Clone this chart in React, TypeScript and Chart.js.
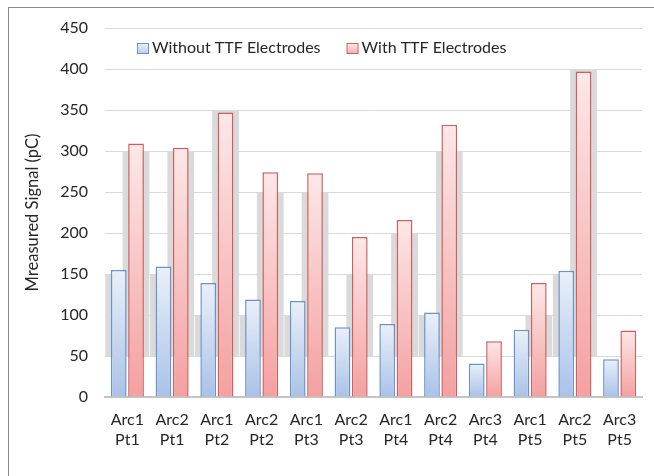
import React, { useEffect, useRef } from "react";
import { Chart, registerables } from "chart.js";

Chart.register(...registerables);

const categories: string[][] = [
  ["Arc1", "Pt1"], ["Arc2", "Pt1"], ["Arc1", "Pt2"], ["Arc2", "Pt2"],
  ["Arc1", "Pt3"], ["Arc2", "Pt3"], ["Arc1", "Pt4"], ["Arc2", "Pt4"],
  ["Arc3", "Pt4"], ["Arc1", "Pt5"], ["Arc2", "Pt5"], ["Arc3", "Pt5"],
];
const withoutTTF: number[] = [155, 159, 139, 119, 117, 85, 89, 103, 41, 82, 154, 46];
const withTTF: number[] = [309, 304, 347, 274, 273, 195, 216, 332, 68, 139, 397, 81];
const seriesLabels: string[] = ["Without TTF Electrodes", "With TTF Electrodes"];
const yTitle = "Mreasured Signal (pC)";

const FONT = "Lato, 'Open Sans', sans-serif";
const TEXT = "#262626";

const palette = [
  { top: "#eaf0f9", bottom: "#aac2e8", border: "#6a93cc", legendTop: "#eef3fa", legendBottom: "#bcd0ee" },
  { top: "#fde8e8", bottom: "#f4a0a0", border: "#cf5f5f", legendTop: "#fdeeee", legendBottom: "#f6b3b3" },
];

function gradientFor(idx: number) {
  return (c: any) => {
    const p = palette[idx];
    if (c.type !== "data") return p.bottom;
    const chart = c.chart;
    const ys = chart.scales && chart.scales.y;
    if (!chart.chartArea || !ys) return p.bottom;
    const y0 = ys.getPixelForValue(c.raw);
    const y1 = ys.getPixelForValue(0);
    if (!isFinite(y0) || !isFinite(y1) || y0 === y1) return p.bottom;
    const g = chart.ctx.createLinearGradient(0, y0, 0, y1);
    g.addColorStop(0, p.top);
    g.addColorStop(1, p.bottom);
    return g;
  };
}

const shadowPlugin = {
  id: "barShadows",
  beforeDatasetsDraw(chart: any) {
    const { ctx, chartArea, scales } = chart;
    const ys = scales.y;
    ctx.save();
    ctx.beginPath();
    ctx.rect(chartArea.left, chartArea.top - 4, chartArea.right - chartArea.left, chartArea.bottom - chartArea.top + 4);
    ctx.clip();
    ctx.fillStyle = "#dadada";
    chart.data.datasets.forEach((ds: any, di: number) => {
      const meta = chart.getDatasetMeta(di);
      meta.data.forEach((el: any, i: number) => {
        const v = ds.data[i];
        const topV = Math.floor((v + 4) / 50) * 50;
        if (topV <= 50) return;
        const { x, width } = el.getProps(["x", "width"], true);
        const top = ys.getPixelForValue(topV);
        const bottom = ys.getPixelForValue(50);
        ctx.fillRect(x - width / 2 - 5.5, top, width + 11, bottom - top);
      });
    });
    ctx.restore();
  },
};

const legendPlugin = {
  id: "innerLegend",
  afterDraw(chart: any) {
    const { ctx } = chart;
    ctx.save();
    ctx.font = `16px ${FONT}`;
    ctx.textBaseline = "middle";
    ctx.textAlign = "left";
    let x = 137;
    const boxTop = 43;
    const textY = 48;
    chart.data.datasets.forEach((ds: any, i: number) => {
      const p = palette[i];
      const g = ctx.createLinearGradient(0, boxTop, 0, boxTop + 10);
      g.addColorStop(0, p.legendTop);
      g.addColorStop(1, p.legendBottom);
      ctx.fillStyle = g;
      ctx.fillRect(x + 0.5, boxTop + 0.5, 11, 10);
      ctx.strokeStyle = p.border;
      ctx.lineWidth = 1;
      ctx.strokeRect(x + 0.5, boxTop + 0.5, 11, 10);
      ctx.fillStyle = TEXT;
      const tx = x + 15;
      ctx.fillText(ds.label, tx, textY);
      x = tx + ctx.measureText(ds.label).width + 26;
    });
    ctx.restore();
  },
};

export default function App() {
  const ref = useRef<HTMLCanvasElement | null>(null);
  useEffect(() => {
    if (!ref.current) return;
    const chart = new Chart(ref.current, {
      type: "bar",
      data: {
        labels: categories,
        datasets: [
          {
            label: seriesLabels[0],
            data: withoutTTF,
            backgroundColor: gradientFor(0),
            borderColor: palette[0].border,
            borderWidth: 1.5,
          },
          {
            label: seriesLabels[1],
            data: withTTF,
            backgroundColor: gradientFor(1),
            borderColor: palette[1].border,
            borderWidth: 1.5,
          },
        ],
      },
      options: {
        animation: false,
        responsive: false,
        categoryPercentage: 0.773,
        barPercentage: 0.91,
        layout: { padding: { left: 8, right: 12, top: 28, bottom: 0 } },
        plugins: {
          tooltip: { enabled: false },
          legend: { display: false },
        },
        scales: {
          x: {
            grid: { display: false, drawTicks: false },
            border: { display: true, color: "#c4c4c4", width: 2 },
            ticks: {
              color: TEXT,
              padding: 13,
              maxRotation: 0,
              autoSkip: false,
              font: { family: FONT, size: 16, lineHeight: 20 / 16 },
            },
            afterFit: (s: any) => { s.height = 79; },
          },
          y: {
            min: 0,
            max: 450,
            ticks: {
              stepSize: 50,
              color: TEXT,
              padding: 17,
              font: { family: FONT, size: 16 },
            },
            grid: { color: "#d9d9d9", lineWidth: 1, drawTicks: false },
            border: { display: false },
            title: {
              display: true,
              text: yTitle,
              color: TEXT,
              font: { family: FONT, size: 16.5 },
              padding: { top: 15, bottom: 0 },
            },
            afterFit: (s: any) => { s.width = 97; },
          },
        },
      },
      plugins: [shadowPlugin, legendPlugin],
    } as any);
    return () => chart.destroy();
  }, []);
  return (
    <div>
      <div
        style={{
          position: "fixed",
          left: 8,
          top: 7,
          width: 800,
          height: 600,
          borderLeft: "1px solid #8a8a8a",
          borderTop: "1px solid #8a8a8a",
          zIndex: 2,
          pointerEvents: "none",
        }}
      />
      <canvas
        ref={ref}
        width={654}
        height={476}
        style={{ position: "fixed", left: 0, top: 0, width: 654, height: 476, background: "#fff" }}
      />
    </div>
  );
}
